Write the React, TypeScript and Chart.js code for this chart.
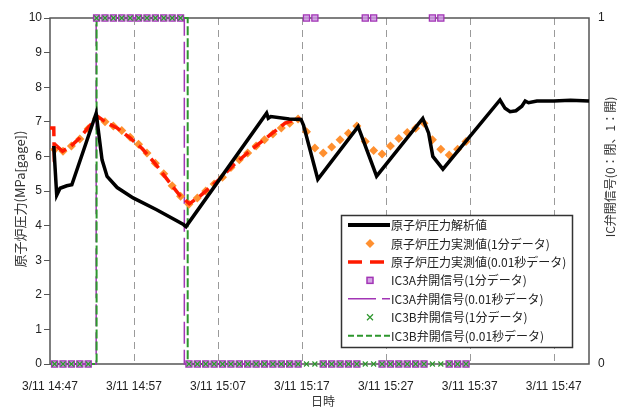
import React, { useEffect, useRef } from "react";
import { Chart, registerables } from "chart.js";
Chart.register(...registerables);

// x values are minutes elapsed since 3/11 14:47
const tickMinutes = [0, 10, 20, 30, 40, 50, 60];
const tickLabels = ["3/11 14:47", "3/11 14:57", "3/11 15:07", "3/11 15:17", "3/11 15:27", "3/11 15:37", "3/11 15:47"];
const xMax = 64.2;

const seriesNames = [
  "原子炉圧力解析値",
  "原子炉圧力実測値(1分データ)",
  "原子炉圧力実測値(0.01秒データ)",
  "IC3A弁開信号(1分データ)",
  "IC3A弁開信号(0.01秒データ)",
  "IC3B弁開信号(1分データ)",
  "IC3B弁開信号(0.01秒データ)",
];

// 原子炉圧力解析値
const analysisT = [0.45, 0.8, 1.2, 2.0, 2.6, 5.5, 6.2, 6.8, 8.0, 9.9, 12.7, 15.9, 16.2, 25.8, 26.0, 26.3, 28.5, 29.9, 30.2, 31.9, 36.7, 37.1, 38.9, 44.4, 45.1, 45.6, 46.8, 53.6, 54.2, 54.8, 55.5, 56.2, 56.6, 57.0, 58.0, 60.0, 62.0, 64.2];
const analysisP = [6.3, 4.88, 5.08, 5.15, 5.18, 7.25, 5.9, 5.42, 5.1, 4.8, 4.46, 4.03, 3.97, 7.25, 7.1, 7.15, 7.08, 7.07, 6.9, 5.34, 6.86, 6.6, 5.43, 7.1, 6.67, 6.0, 5.63, 7.63, 7.39, 7.29, 7.32, 7.45, 7.6, 7.55, 7.6, 7.6, 7.62, 7.6];

// 1分データ sample times
const minuteT = [0.55, 1.55, 2.55, 3.55, 4.55, 5.55, 6.55, 7.55, 8.55, 9.55, 10.55, 11.55, 12.55, 13.55, 14.55, 15.55, 16.55, 17.55, 18.55, 19.55, 20.55, 21.55, 22.55, 23.55, 24.55, 25.55, 26.55, 27.55, 28.55, 29.55, 30.55, 31.55, 32.55, 33.55, 34.55, 35.55, 36.55, 37.55, 38.55, 39.55, 40.55, 41.55, 42.55, 43.55, 44.55, 45.55, 46.55, 47.55, 48.55, 49.55];
const measuredMinP = [6.2, 6.15, 6.3, 6.5, 6.8, 7.1, 7.0, 6.88, 6.75, 6.55, 6.35, 6.1, 5.8, 5.5, 5.15, 4.85, 4.62, 4.8, 5.0, 5.2, 5.4, 5.68, 5.9, 6.1, 6.3, 6.48, 6.65, 6.82, 6.96, 7.08, 6.71, 6.24, 6.1, 6.27, 6.48, 6.67, 6.88, 6.43, 6.17, 6.07, 6.3, 6.52, 6.69, 6.81, 6.96, 6.48, 6.21, 6.04, 6.21, 6.43];
const ic3aMin = [0, 0, 0, 0, 0, 1, 1, 1, 1, 1, 1, 1, 1, 1, 1, 1, 0, 0, 0, 0, 0, 0, 0, 0, 0, 0, 0, 0, 0, 0, 1, 1, 0, 0, 0, 0, 0, 1, 1, 0, 0, 0, 0, 0, 0, 1, 1, 0, 0, 0];
const ic3bMin = [0, 0, 0, 0, 0, 1, 1, 1, 1, 1, 1, 1, 1, 1, 1, 1, 0, 0, 0, 0, 0, 0, 0, 0, 0, 0, 0, 0, 0, 0, 0, 0, 0, 0, 0, 0, 0, 0, 0, 0, 0, 0, 0, 0, 0, 0, 0, 0, 0, 0];

// 0.01秒データ
const measuredFastT = [0, 0.45, 0.5, 0.8, 1.5, 2.5, 3.5, 4.5, 5.7, 6.7, 8.0, 9.5, 11.0, 12.5, 14.0, 15.5, 16.6, 18.0, 20.0, 22.0, 24.0, 26.0, 28.0, 29.8];
const measuredFastP = [6.82, 6.82, 6.1, 6.3, 6.15, 6.3, 6.52, 6.82, 7.15, 6.98, 6.82, 6.54, 6.22, 5.8, 5.32, 4.86, 4.63, 4.88, 5.3, 5.78, 6.2, 6.58, 6.96, 7.1];
const ic3aFastT = [0, 5.5, 5.5, 16.0, 16.0, 29.8];
const ic3aFastV = [0, 0, 1, 1, 0, 0];
const ic3bFastT = [0, 5.55, 5.55, 16.4, 16.4, 29.8];
const ic3bFastV = [0, 0, 1, 1, 0, 0];

const leftTitle = "原子炉圧力(MPa[gage])";
const rightTitle = "IC弁開信号(0：閉、1：開)";
const xTitle = "日時";

const C_BLACK = "#000000";
const C_ORANGE = "#ff9030";
const C_RED = "#ff1a00";
const C_PURPLE = "#a235b5";
const C_PURPLE_FILL = "rgba(205,150,225,0.85)";
const C_GREEN = "#2d962d";

const zip = (t: number[], v: number[]) => t.map((x, i) => ({ x, y: v[i] }));

const jp = '"Noto Sans CJK JP", "Noto Sans", sans-serif';

const decor = {
  id: "decor",
  beforeDatasetsDraw(chart: any) {
    const { ctx, chartArea: a, scales } = chart;
    const x = scales.x;
    ctx.save();
    ctx.strokeStyle = "#9a9a9a";
    ctx.lineWidth = 1;
    ctx.setLineDash([7, 5]);
    for (const m of tickMinutes) {
      if (m <= 0) continue;
      const px = Math.round(x.getPixelForValue(m)) + 0.5;
      ctx.beginPath();
      ctx.moveTo(px, a.top);
      ctx.lineTo(px, a.bottom);
      ctx.stroke();
    }
    ctx.setLineDash([]);
    ctx.strokeStyle = "#555";
    ctx.lineWidth = 1.5;
    ctx.strokeRect(a.left, a.top, a.right - a.left, a.bottom - a.top);
    ctx.restore();
  },
  afterDraw(chart: any) {
    const { ctx } = chart;
    ctx.save();
    // axis titles
    ctx.fillStyle = "#333";
    ctx.textAlign = "center";
    ctx.textBaseline = "middle";
    ctx.font = `13px ${jp}`;
    ctx.save();
    ctx.translate(20, 199);
    ctx.rotate(-Math.PI / 2);
    ctx.fillText(leftTitle, 0, 0);
    ctx.restore();
    ctx.font = `12px ${jp}`;
    ctx.save();
    ctx.translate(610.5, 167);
    ctx.rotate(-Math.PI / 2);
    ctx.fillText(rightTitle, 0, 0);
    ctx.restore();
    ctx.fillText(xTitle, 323, 401);

    // legend
    const bx = 341, by = 215, bw = 231, bh = 132;
    ctx.fillStyle = "#fff";
    ctx.fillRect(bx, by, bw, bh);
    ctx.strokeStyle = "#333";
    ctx.lineWidth = 1.5;
    ctx.strokeRect(bx + 0.5, by + 0.5, bw, bh);
    const rowY = (i: number) => 225 + i * 18.45;
    const lx0 = 348, lx1 = 390, mx = 370;
    const line = (i: number, color: string, w: number, dash: number[]) => {
      ctx.save();
      ctx.strokeStyle = color;
      ctx.lineWidth = w;
      ctx.setLineDash(dash);
      ctx.beginPath();
      ctx.moveTo(lx0, rowY(i));
      ctx.lineTo(lx1, rowY(i));
      ctx.stroke();
      ctx.restore();
    };
    line(0, C_BLACK, 4, []);
    // diamond
    ctx.fillStyle = C_ORANGE;
    ctx.beginPath();
    const dy = rowY(1);
    ctx.moveTo(mx, dy - 4.5);
    ctx.lineTo(mx + 4.5, dy);
    ctx.lineTo(mx, dy + 4.5);
    ctx.lineTo(mx - 4.5, dy);
    ctx.closePath();
    ctx.fill();
    line(2, C_RED, 3.5, [14, 8]);
    // square
    ctx.fillStyle = C_PURPLE_FILL;
    ctx.strokeStyle = C_PURPLE;
    ctx.lineWidth = 1.5;
    ctx.fillRect(mx - 3, rowY(3) - 3, 6, 6);
    ctx.strokeRect(mx - 3, rowY(3) - 3, 6, 6);
    line(4, C_PURPLE, 1.5, [28, 6]);
    // cross
    ctx.strokeStyle = C_GREEN;
    ctx.lineWidth = 1.2;
    ctx.beginPath();
    const cy = rowY(5);
    ctx.moveTo(mx - 3, cy - 3); ctx.lineTo(mx + 3, cy + 3);
    ctx.moveTo(mx + 3, cy - 3); ctx.lineTo(mx - 3, cy + 3);
    ctx.stroke();
    line(6, C_GREEN, 2, [6, 3]);
    ctx.fillStyle = "#222";
    ctx.textAlign = "left";
    ctx.font = `12px ${jp}`;
    seriesNames.forEach((n, i) => ctx.fillText(n, 391, rowY(i) + 0.5));
    ctx.restore();
  },
};

export default function App() {
  const ref = useRef<HTMLCanvasElement | null>(null);
  useEffect(() => {
    if (!ref.current) return;
    const chart = new Chart(ref.current, {
      type: "line",
      data: {
        datasets: [
          {
            label: seriesNames[0], data: zip(analysisT, analysisP), yAxisID: "y",
            borderColor: C_BLACK, borderWidth: 3.5, pointRadius: 0, tension: 0, order: 0, clip: false,
          },
          {
            label: seriesNames[1], data: zip(minuteT, measuredMinP), yAxisID: "y", showLine: false,
            pointStyle: "rectRot", pointRadius: 4.5, pointBackgroundColor: C_ORANGE, pointBorderColor: C_ORANGE,
            pointBorderWidth: 0, borderColor: C_ORANGE, order: 4,
          },
          {
            label: seriesNames[2], data: zip(measuredFastT, measuredFastP), yAxisID: "y",
            borderColor: C_RED, borderWidth: 3.5, borderDash: [12, 6], pointRadius: 0, tension: 0, order: 3,
          },
          {
            label: seriesNames[3], data: zip(minuteT, ic3aMin), yAxisID: "y1", showLine: false,
            pointStyle: "rect", pointRadius: 4.3, pointBackgroundColor: C_PURPLE_FILL, pointBorderColor: C_PURPLE,
            pointBorderWidth: 1.3, borderColor: C_PURPLE, order: 2, clip: false,
          },
          {
            label: seriesNames[4], data: zip(ic3aFastT, ic3aFastV), yAxisID: "y1",
            borderColor: C_PURPLE, borderWidth: 1.5, borderDash: [22, 6], pointRadius: 0, tension: 0, order: 6, clip: false,
          },
          {
            label: seriesNames[5], data: zip(minuteT, ic3bMin), yAxisID: "y1", showLine: false,
            pointStyle: "crossRot", pointRadius: 3.5, pointBorderColor: C_GREEN, pointBorderWidth: 1.2,
            borderColor: C_GREEN, order: 1, clip: false,
          },
          {
            label: seriesNames[6], data: zip(ic3bFastT, ic3bFastV), yAxisID: "y1",
            borderColor: C_GREEN, borderWidth: 2, borderDash: [9, 3], pointRadius: 0, tension: 0, order: 5, clip: false,
          },
        ],
      },
      options: {
        animation: false,
        responsive: false,
        maintainAspectRatio: false,
        layout: { padding: { top: 18, left: 0, right: 0, bottom: 0 } },
        plugins: { legend: { display: false }, tooltip: { enabled: false } },
        scales: {
          x: {
            type: "linear", position: "bottom", min: 0, max: xMax,
            grid: { display: false, drawTicks: false },
            border: { display: false },
            afterBuildTicks: (s: any) => { s.ticks = tickMinutes.map((v) => ({ value: v })); },
            afterFit: (s: any) => { s.height = 44; },
            ticks: {
              autoSkip: false, maxRotation: 0, minRotation: 0, padding: 15, color: "#222",
              font: { family: "Liberation Sans", size: 12 },
              callback: (v: any) => { const i = tickMinutes.indexOf(Number(v)); return i >= 0 ? tickLabels[i] : ""; },
            },
          },
          y: {
            position: "left", min: 0, max: 10,
            grid: { drawOnChartArea: false, drawTicks: true, tickLength: 6, color: "#555" },
            border: { display: false },
            afterFit: (s: any) => { s.width = 50; },
            ticks: { stepSize: 1, padding: 2, color: "#222", font: { family: "Liberation Sans", size: 12 } },
          },
          y1: {
            position: "right", min: 0, max: 1,
            grid: { display: false, drawTicks: false },
            border: { display: false },
            afterFit: (s: any) => { s.width = 32; },
            ticks: { stepSize: 1, padding: 9, color: "#222", font: { family: "Liberation Sans", size: 12 } },
          },
        },
      },
      plugins: [decor],
    } as any);
    return () => chart.destroy();
  }, []);
  return (
    <div style={{ position: "absolute", left: 0, top: 0, width: 621, height: 408, background: "#fff" }}>
      <canvas ref={ref} width={621} height={408} />
    </div>
  );
}
